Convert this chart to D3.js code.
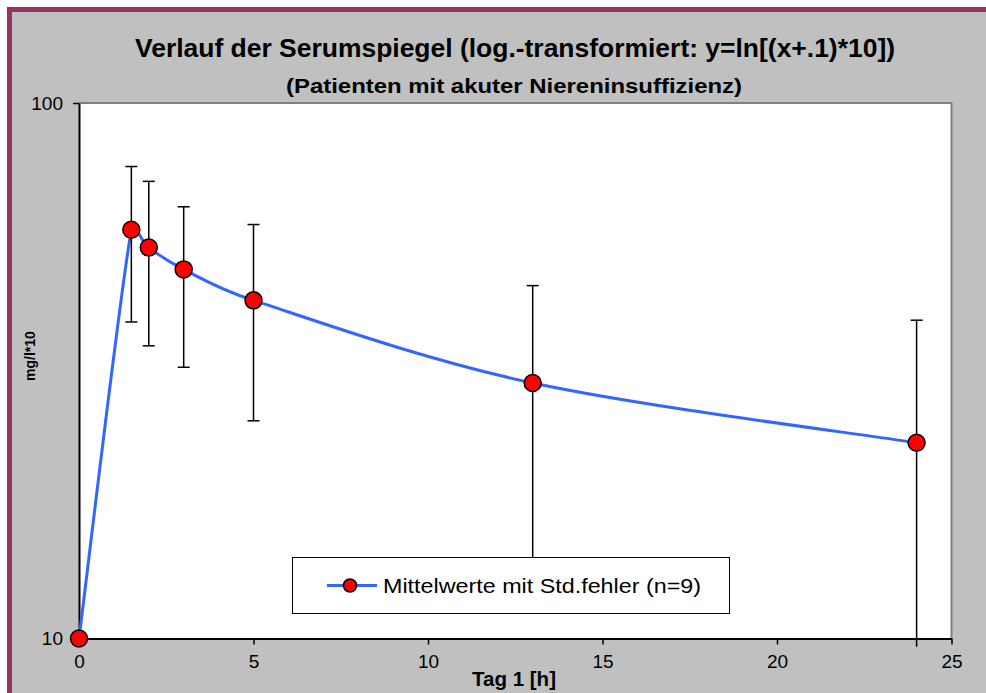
<!DOCTYPE html>
<html>
<head>
<meta charset="utf-8">
<script src="https://cdn.jsdelivr.net/npm/d3@7"></script>
<style>
  html, body { margin: 0; padding: 0; background: #ffffff; }
  svg { display: block; font-family: Arial, "Liberation Sans", sans-serif; }
</style>
</head>
<body>
<svg id="chart" width="986" height="693"></svg>
<script>
// Sampling times (hours on day 1)
const timeH = [0, 1.5, 2, 3, 5, 13, 24];
// Mean serum level (log-transformed, mg/l*10)
const meanVal = [10, 58.0, 53.7, 48.9, 42.8, 30.0, 23.2];
// Upper / lower end of the standard-error bars
const upperVal = [10, 76.1, 71.4, 64.0, 59.3, 45.6, 39.3];
const lowerVal = [10, 39.0, 35.2, 32.1, 25.5, 13.8, 9.65];
// Axis ticks
const xTicks = [0, 5, 10, 15, 20, 25];
const yTicks = [10, 100];

const titleText = "Verlauf der Serumspiegel (log.-transformiert: y=ln[(x+.1)*10])";
const subtitleText = "(Patienten mit akuter Niereninsuffizienz)";
const xTitle = "Tag 1 [h]";
const yTitle = "mg/l*10";
const legendText = "Mittelwerte mit Std.fehler (n=9)";

// Spreadsheet-style smoothing: cubic Bezier segments whose control points follow
// the neighbour-to-neighbour direction (1/6 of its length), capped at half the segment.
function SmoothCurve(context) { this._context = context; }
SmoothCurve.prototype = {
  areaStart() { this._line = 0; },
  areaEnd() { this._line = NaN; },
  lineStart() { this._xs = []; this._ys = []; },
  point(px, py) { this._xs.push(+px); this._ys.push(+py); },
  lineEnd() {
    const xs = this._xs, ys = this._ys, n = xs.length, c = this._context;
    if (!n) return;
    c.moveTo(xs[0], ys[0]);
    for (let i = 0; i < n - 1; i++) {
      const seg = Math.hypot(xs[i + 1] - xs[i], ys[i + 1] - ys[i]);
      const ctrl = (a, b) => {
        const dx = xs[b] - xs[a], dy = ys[b] - ys[a];
        const len = Math.hypot(dx, dy);
        const k = len ? Math.min(len / 6, seg / 2) / len : 0;
        return [dx * k, dy * k];
      };
      const t1 = ctrl(Math.max(i - 1, 0), i + 1);
      const t2 = ctrl(i, Math.min(i + 2, n - 1));
      c.bezierCurveTo(xs[i] + t1[0], ys[i] + t1[1],
                      xs[i + 1] - t2[0], ys[i + 1] - t2[1],
                      xs[i + 1], ys[i + 1]);
    }
  }
};
const smoothCurve = ctx => new SmoothCurve(ctx);

const svg = d3.select("#chart");

// Outer chart frame
svg.append("rect")
  .attr("x", 9.5).attr("y", 9.5)
  .attr("width", 1000).attr("height", 700)
  .attr("fill", "#c0c0c0")
  .attr("stroke", "#993366")
  .attr("stroke-width", 5);

const plot = { left: 79, right: 951.5, top: 103, bottom: 638.5 };

const x = d3.scaleLinear().domain([0, 25]).range([plot.left, plot.right]);
const y = d3.scaleLog().domain([10, 100]).range([plot.bottom, plot.top]);

// Plot area
svg.append("rect")
  .attr("x", plot.left).attr("y", plot.top)
  .attr("width", plot.right - plot.left).attr("height", plot.bottom - plot.top)
  .attr("fill", "#ffffff");
svg.append("path")
  .attr("d", `M${plot.left},${plot.top}H${plot.right}V${plot.bottom}`)
  .attr("fill", "none")
  .attr("stroke", "#808080")
  .attr("stroke-width", 2);

// Titles
svg.append("text")
  .attr("x", 135).attr("y", 57)
  .attr("textLength", 760).attr("lengthAdjust", "spacingAndGlyphs")
  .attr("font-size", 25).attr("font-weight", "bold").attr("fill", "#000")
  .text(titleText);
svg.append("text")
  .attr("x", 286).attr("y", 93)
  .attr("textLength", 456).attr("lengthAdjust", "spacingAndGlyphs")
  .attr("font-size", 21).attr("font-weight", "bold").attr("fill", "#000")
  .text(subtitleText);

// Axes
const xAxis = d3.axisBottom(x).tickValues(xTicks).tickSize(6).tickSizeOuter(0).tickPadding(10)
  .tickFormat(d3.format("d"));
const gx = svg.append("g").attr("transform", `translate(0,${plot.bottom})`).call(xAxis);
gx.select(".domain").attr("stroke", "#000").attr("stroke-width", 2);
gx.selectAll(".tick line").attr("stroke", "#000").attr("stroke-width", 1.5);
gx.selectAll(".tick text").attr("font-size", 19).attr("fill", "#000")
  .attr("font-family", "Arial, 'Liberation Sans', sans-serif");

const yAxis = d3.axisLeft(y).tickValues(yTicks).tickSize(6).tickSizeOuter(0).tickPadding(10)
  .tickFormat(d3.format("d"));
const gy = svg.append("g").attr("transform", `translate(${plot.left},0)`).call(yAxis);
gy.select(".domain").attr("stroke", "#000").attr("stroke-width", 2);
gy.selectAll(".tick line").attr("stroke", "#000").attr("stroke-width", 1.5);
gy.selectAll(".tick text").attr("font-size", 19).attr("fill", "#000")
  .attr("font-family", "Arial, 'Liberation Sans', sans-serif");

// Axis titles
svg.append("text")
  .attr("x", 514).attr("y", 686)
  .attr("text-anchor", "middle")
  .attr("textLength", 84).attr("lengthAdjust", "spacingAndGlyphs")
  .attr("font-size", 20).attr("font-weight", "bold")
  .text(xTitle);
svg.append("text")
  .attr("transform", "translate(35,356) rotate(-90)")
  .attr("text-anchor", "middle")
  .attr("font-size", 14).attr("font-weight", "bold")
  .text(yTitle);

const points = timeH.map((t, i) => ({ t, m: meanVal[i], hi: upperVal[i], lo: lowerVal[i] }));

// Mean curve (smoothed)
const line = d3.line()
  .x(d => x(d.t)).y(d => y(d.m))
  .curve(smoothCurve);
svg.append("path")
  .datum(points)
  .attr("d", line)
  .attr("fill", "none")
  .attr("stroke", "#3366ff")
  .attr("stroke-width", 3);

// Standard-error bars
const capW = 6;
const [yMin] = y.domain();
const bars = svg.append("g").attr("stroke", "#000").attr("stroke-width", 1.5);
points.filter(d => d.hi !== d.lo).forEach(d => {
  const cx = x(d.t);
  bars.append("line").attr("x1", cx).attr("x2", cx).attr("y1", y(d.hi)).attr("y2", y(d.lo));
  bars.append("line").attr("x1", cx - capW).attr("x2", cx + capW).attr("y1", y(d.hi)).attr("y2", y(d.hi));
  if (d.lo >= yMin) {
    bars.append("line").attr("x1", cx - capW).attr("x2", cx + capW).attr("y1", y(d.lo)).attr("y2", y(d.lo));
  }
});

// Markers
svg.append("g").selectAll("circle")
  .data(points)
  .join("circle")
  .attr("cx", d => x(d.t)).attr("cy", d => y(d.m))
  .attr("r", 8.5)
  .attr("fill", "#ff0000")
  .attr("stroke", "#000")
  .attr("stroke-width", 1.5);

// Legend
const lg = svg.append("g");
lg.append("rect")
  .attr("x", 292.5).attr("y", 557.5)
  .attr("width", 437).attr("height", 56)
  .attr("fill", "#ffffff").attr("stroke", "#000").attr("stroke-width", 1);
lg.append("line")
  .attr("x1", 327).attr("x2", 377).attr("y1", 585.5).attr("y2", 585.5)
  .attr("stroke", "#3366ff").attr("stroke-width", 3);
lg.append("circle")
  .attr("cx", 350).attr("cy", 585.5).attr("r", 6.5)
  .attr("fill", "#ff0000").attr("stroke", "#000").attr("stroke-width", 1.5);
lg.append("text")
  .attr("x", 383).attr("y", 593)
  .attr("textLength", 318).attr("lengthAdjust", "spacingAndGlyphs")
  .attr("font-size", 21).attr("fill", "#000")
  .text(legendText);
</script>
</body>
</html>
